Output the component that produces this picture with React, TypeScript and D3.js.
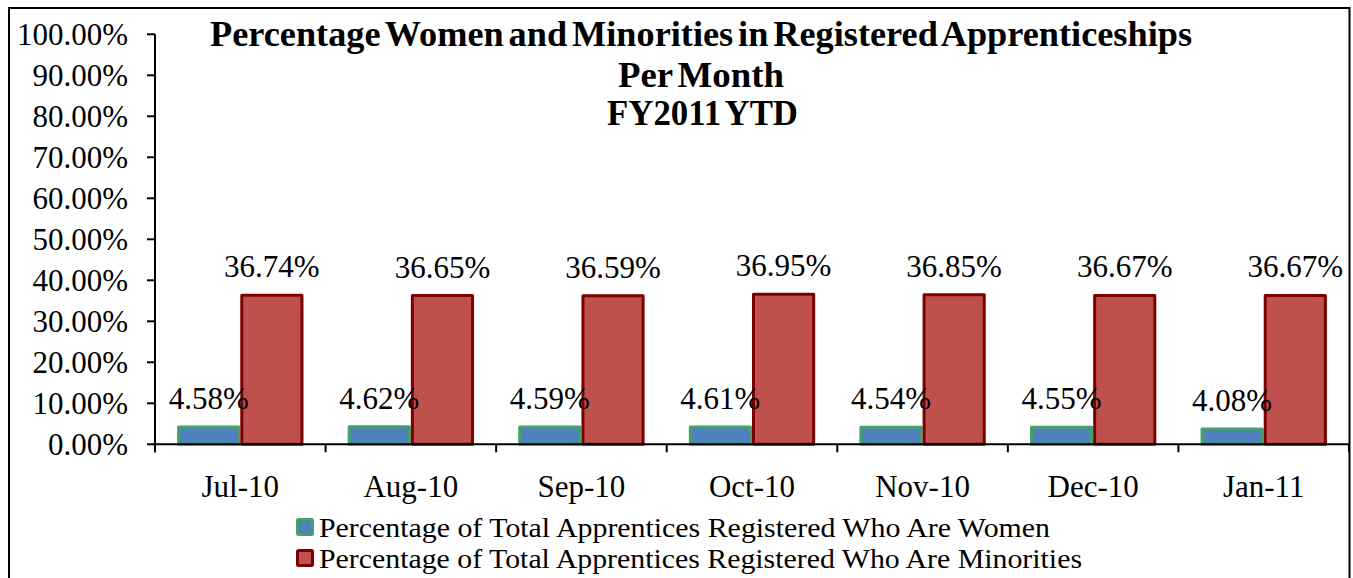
import React from 'react'
import * as d3 from 'd3'

// chart data
const months = ['Jul-10', 'Aug-10', 'Sep-10', 'Oct-10', 'Nov-10', 'Dec-10', 'Jan-11']
const women = [4.58, 4.62, 4.59, 4.61, 4.54, 4.55, 4.08]
const minorities = [36.74, 36.65, 36.59, 36.95, 36.85, 36.67, 36.67]
const yTicks = [0, 10, 20, 30, 40, 50, 60, 70, 80, 90, 100]
const titleLines = [
  'Percentage Women and Minorities in Registered Apprenticeships',
  'Per Month',
  'FY2011 YTD'
]
const seriesNames = [
  'Percentage of Total Apprentices Registered Who Are Women',
  'Percentage of Total Apprentices Registered Who Are Minorities'
]

const FONT = '"Liberation Serif", "Times New Roman", serif'
const fills = ['#4F81BD', '#C0504D']
const strokes = ['#46A06A', '#7B0000']

function App() {
  const width = 1353
  const height = 578
  const left = 155
  const right = 1349
  const top = 34.3
  const bottom = 444.3

  const x = d3.scaleBand().domain(months).range([left, right])
  const inner = d3
    .scaleBand()
    .domain(['0', '1'])
    .range([0, x.bandwidth()])
    .paddingOuter(0.35)
    .paddingInner(0)
  const y = d3.scaleLinear().domain([0, 100]).range([bottom, top])

  const series = [women, minorities]
  // widths measured on the reference, the source text is set wide
  const titleWidths = [982, 166, 191]
  const legendWidths = [731, 763]

  return (
    <svg
      width={width}
      height={height}
      style={{ position: 'absolute', left: 0, top: 0, background: '#fff' }}
      fontFamily={FONT}
    >
      {/* outer frame */}
      <rect x={9} y={8} width={1340.5} height={600} fill="none" stroke="#000" strokeWidth={2} />

      {/* title */}
      {titleLines.map((t, i) => (
        <text
          key={t}
          x={[701, 701, 702.5][i]}
          y={[45.5, 86.5, 124.5][i]}
          textAnchor="middle"
          fontWeight="bold"
          fontSize={35}
          wordSpacing={-4}
          textLength={titleWidths[i]}
          lengthAdjust="spacingAndGlyphs"
        >
          {t}
        </text>
      ))}

      {/* bars */}
      {series.map((vals, s) =>
        vals.map((v, i) => {
          const bx = (x(months[i]) as number) + (inner(String(s)) as number)
          const bw = inner.bandwidth()
          return (
            <rect
              key={s + '-' + i}
              x={bx + 1.5}
              y={y(v) + 1.5}
              width={bw - 3}
              height={y(0) - y(v) - 1.5}
              fill={fills[s]}
              stroke={strokes[s]}
              strokeWidth={3}
              strokeLinejoin="round"
            />
          )
        })
      )}

      {/* value labels */}
      {series.map((vals, s) =>
        vals.map((v, i) => {
          const cx = (x(months[i]) as number) + (inner(String(s)) as number) + inner.bandwidth() / 2
          return (
            <text key={'l' + s + '-' + i} x={cx} y={y(v) - 16.5} textAnchor="middle" fontSize={31}>
              {v.toFixed(2) + '%'}
            </text>
          )
        })
      )}

      {/* y axis */}
      <line x1={left} x2={left} y1={top} y2={bottom + 8} stroke="#000" strokeWidth={2} />
      {yTicks.map(t => (
        <g key={t}>
          <line x1={left - 8} x2={left} y1={y(t)} y2={y(t)} stroke="#000" strokeWidth={2} />
          <text x={128} y={y(t) + 11} textAnchor="end" fontSize={31}>
            {t.toFixed(2) + '%'}
          </text>
        </g>
      ))}

      {/* x axis */}
      <line x1={left} x2={right} y1={bottom} y2={bottom} stroke="#000" strokeWidth={2} />
      {months.map(m => (
        <line
          key={'t' + m}
          x1={x(m) as number}
          x2={x(m) as number}
          y1={bottom}
          y2={bottom + 8}
          stroke="#000"
          strokeWidth={2}
        />
      ))}
      <line x1={right} x2={right} y1={bottom} y2={bottom + 8} stroke="#000" strokeWidth={2} />
      {months.map(m => (
        <text
          key={'x' + m}
          x={(x(m) as number) + x.bandwidth() / 2}
          y={497}
          textAnchor="middle"
          fontSize={31}
        >
          {m}
        </text>
      ))}

      {/* legend */}
      {seriesNames.map((n, s) => (
        <g key={n}>
          <rect
            x={297.5}
            y={519.5 + s * 31}
            width={15}
            height={15}
            fill={fills[s]}
            stroke={strokes[s]}
            strokeWidth={3}
            rx={1}
          />
          <text
            x={319}
            y={537 + s * 31}
            fontSize={28}
            textLength={legendWidths[s]}
            lengthAdjust="spacingAndGlyphs"
          >
            {n}
          </text>
        </g>
      ))}
    </svg>
  )
}

export default App
